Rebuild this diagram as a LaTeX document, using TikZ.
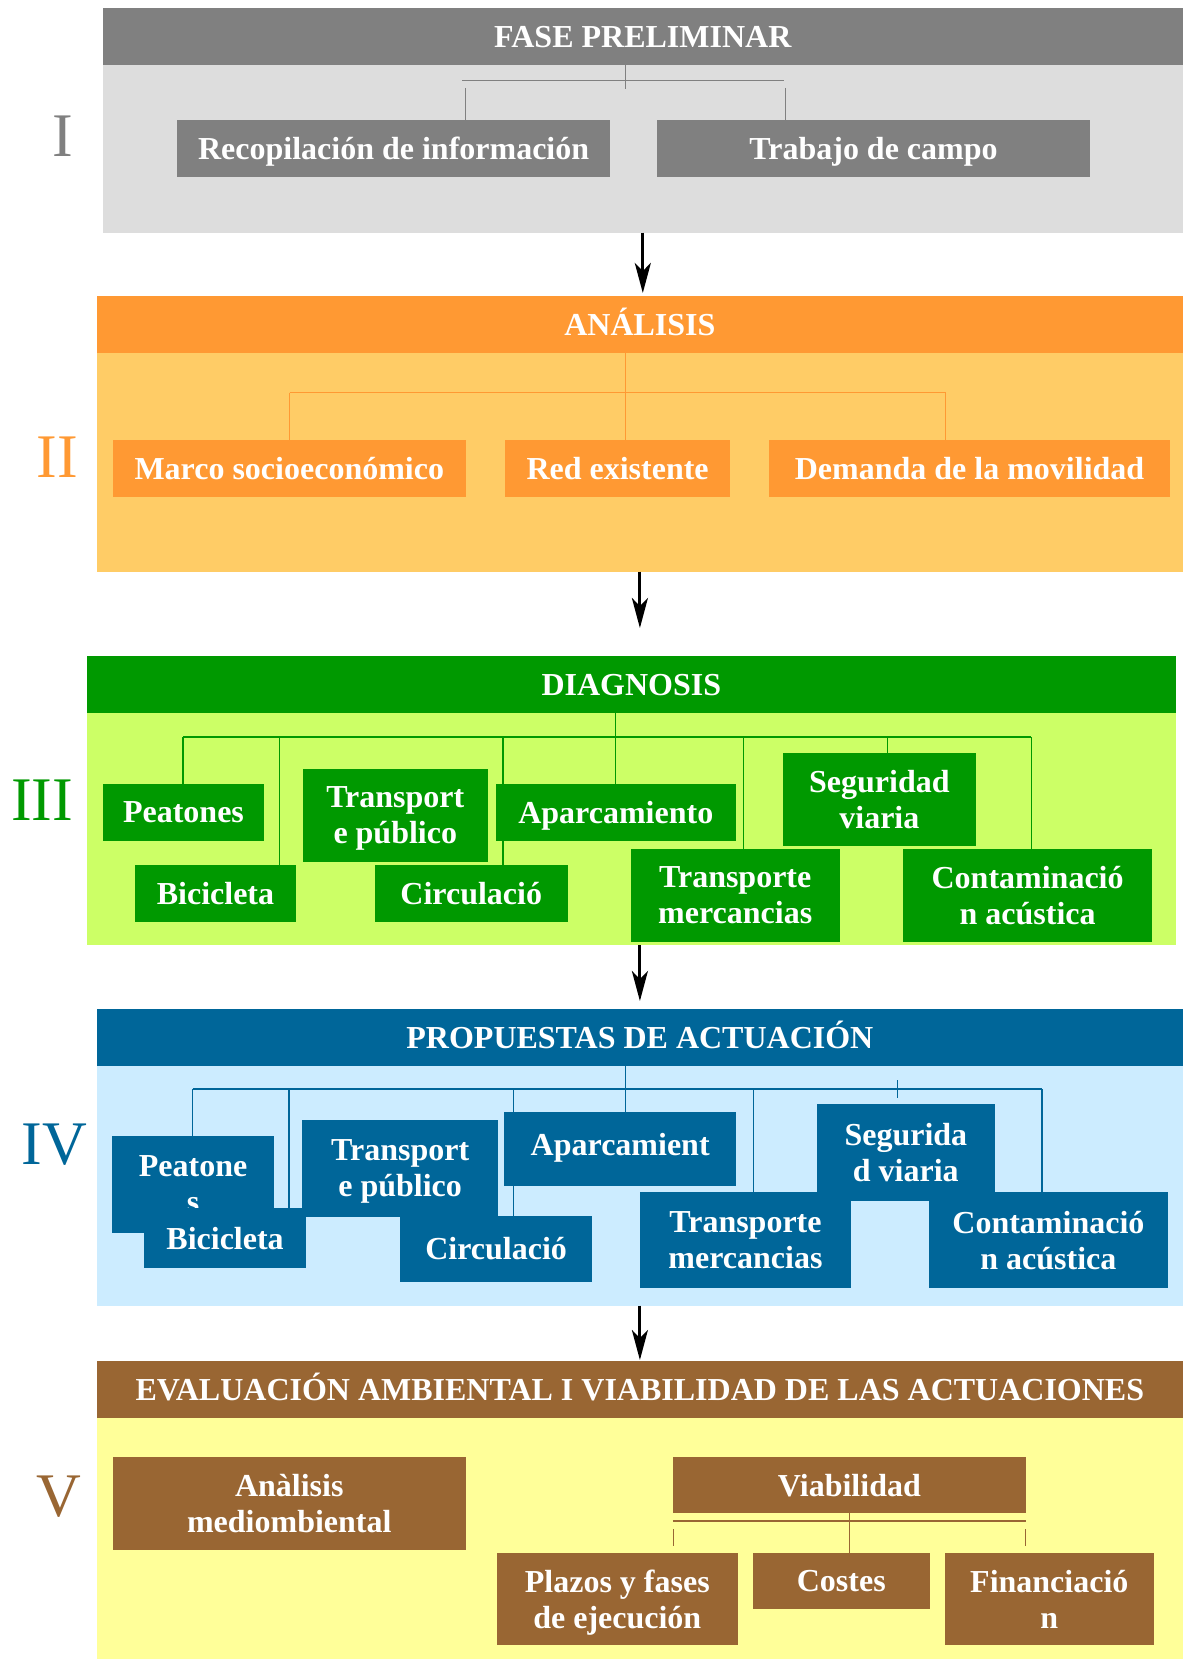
\documentclass[tikz,border=0pt]{standalone}
\usepackage{fontspec}
\setmainfont{Liberation Serif}
\usetikzlibrary{arrows.meta}
\definecolor{grayD}{HTML}{808080}
\definecolor{grayL}{HTML}{DDDDDD}
\definecolor{orD}{HTML}{FF9933}
\definecolor{orL}{HTML}{FFCC66}
\definecolor{grD}{HTML}{009900}
\definecolor{grL}{HTML}{CCFF66}
\definecolor{blD}{HTML}{006699}
\definecolor{blL}{HTML}{CCECFF}
\definecolor{brD}{HTML}{996633}
\definecolor{brL}{HTML}{FFFF99}
\begin{document}
\begin{tikzpicture}[x=1pt,y=-1pt,
  pan/.style={fill=#1, inner sep=0pt, outer sep=0pt},
  hdr/.style={fill=#1, text=white, inner sep=0pt, outer sep=0pt, text height=22pt, text depth=0pt, font=\bfseries\fontsize{32}{36}\selectfont},
  box/.style={fill=#1, text=white, inner sep=0pt, outer sep=0pt, align=center, text depth=0pt, font=\bfseries\fontsize{32}{36}\selectfont},
  num/.style={text=#1, inner sep=0pt, font=\fontsize{62}{70}\selectfont},
  lnk/.style={draw=#1, line width=1.3pt},
  arr/.style={draw=black, line width=3pt, -{Stealth[length=30pt,width=16pt,inset=8pt]}}]
\useasboundingbox (0,0) rectangle (1183,1659);

\node[pan=grayL, minimum width=1080.4pt, minimum height=224.7pt] (pan1) at (642.8,120.35) {};
\node[hdr=grayD, minimum width=1080.4pt, minimum height=57pt] (hdr1) at (642.8,36.5) {FASE PRELIMINAR};
\node[box=grayD, minimum width=432.8pt, minimum height=56.7pt] (recop) at (393.6,148.35) {Recopilación de información};
\node[box=grayD, minimum width=433pt, minimum height=56.7pt] (trab) at (873.5,148.35) {Trabajo de campo};
\node[num=grayD] (n1) at (63,136.7) {I};
\coordinate (s1) at (625.2,89);
\coordinate (b1l) at (462,80.3);
\coordinate (b1r) at (783.7,80.3);
\coordinate (d1l) at (465.4,88);
\coordinate (d1r) at (785.5,88);
\draw[lnk=grayD] (s1 |- hdr1.south) -- (s1);
\draw[lnk=grayD] (b1l) -- (b1r);
\draw[lnk=grayD] (d1l) -- (d1l |- recop.north);
\draw[lnk=grayD] (d1r) -- (d1r |- trab.north);

\node[pan=orL, minimum width=1086.2pt, minimum height=275.7pt] (pan2) at (639.9,433.85) {};
\node[hdr=orD, minimum width=1086.2pt, minimum height=56.7pt] (hdr2) at (639.9,324.35) {ANÁLISIS};
\node[box=orD, minimum width=352.8pt, minimum height=56.7pt] (marco) at (289.3,468.35) {Marco socioeconómico};
\node[box=orD, minimum width=224.8pt, minimum height=56.7pt] (red) at (617.6,468.35) {Red existente};
\node[box=orD, minimum width=401.3pt, minimum height=56.7pt] (dem) at (969.55,468.35) {Demanda de la movilidad};
\node[num=orD] (n2) at (57.4,456.7) {II};
\coordinate (v2) at (625.2,392.7);
\coordinate (b2l) at (289.7,392.7);
\coordinate (b2r) at (945.5,392.7);
\draw[lnk=orD] (v2 |- hdr2.south) -- (v2 |- red.north);
\draw[lnk=orD] (b2l) -- (b2r);
\draw[lnk=orD] (b2l) -- (b2l |- marco.north);
\draw[lnk=orD] (b2r) -- (b2r |- dem.north);

\node[pan=grL, minimum width=1088.9pt, minimum height=289pt] (pan3) at (631.35,800.5) {};
\node[hdr=grD, minimum width=1088.9pt, minimum height=56.7pt] (hdr3) at (631.35,684.35) {DIAGNOSIS};
\node[box=grD, minimum width=161pt, minimum height=57pt] (peat3) at (183.5,812.5) {Peatones};
\node[box=grD, minimum width=160.7pt, minimum height=56.7pt] (bici3) at (215.45,893.35) {Bicicleta};
\node[box=grD, minimum width=184.6pt, minimum height=92.7pt] (trans3) at (395.3,815.35) {Transport\\e público};
\node[box=grD, minimum width=192.5pt, minimum height=56.7pt] (circ3) at (471.25,893.35) {Circulació};
\node[box=grD, minimum width=240.4pt, minimum height=57pt] (apar3) at (615.8,812.5) {Aparcamiento};
\node[box=grD, minimum width=208.8pt, minimum height=92.7pt] (merc3) at (735.2,895.35) {Transporte\\mercancias};
\node[box=grD, minimum width=192.9pt, minimum height=92.4pt] (segu3) at (879.35,799.5) {Seguridad\\viaria};
\node[box=grD, minimum width=248.8pt, minimum height=92.7pt] (cont3) at (1027.6,895.35) {Contaminació\\n acústica};
\node[num=grD] (n3) at (42,800) {III};
\coordinate (b3l) at (183,737);
\coordinate (b3r) at (1031.4,737);
\coordinate (d3b) at (279.4,737);
\coordinate (d3c) at (502.9,737);
\coordinate (d3m) at (743.2,737);
\coordinate (d3s) at (887.3,737);
\draw[lnk=grD] (apar3.north |- hdr3.south) -- (apar3.north);
\draw[lnk=grD] (b3l) -- (b3r);
\draw[lnk=grD] (b3l) -- (b3l |- peat3.north);
\draw[lnk=grD] (d3b) -- (d3b |- bici3.north);
\draw[lnk=grD] (d3c) -- (d3c |- apar3.north);
\draw[lnk=grD] (d3c |- apar3.south) -- (d3c |- circ3.north);
\draw[lnk=grD] (d3m) -- (d3m |- merc3.north);
\draw[lnk=grD] (d3s) -- (d3s |- segu3.north);
\draw[lnk=grD] (b3r) -- (b3r |- cont3.north);

\node[pan=blL, minimum width=1086.2pt, minimum height=296.7pt] (pan4) at (639.9,1157.35) {};
\node[hdr=blD, minimum width=1086.2pt, minimum height=57pt] (hdr4) at (639.9,1037.5) {PROPUESTAS DE ACTUACIÓN};
\node[box=blD, minimum width=161.9pt, minimum height=96.7pt] (peat4) at (193.05,1184.35) {Peatone\\s};
\node[box=blD, minimum width=162.3pt, minimum height=59.4pt] (bici4) at (225.05,1238) {Bicicleta};
\node[box=blD, minimum width=196.3pt, minimum height=96.4pt] (trans4) at (400.15,1168.5) {Transport\\e público};
\node[box=blD, minimum width=191.7pt, minimum height=65.7pt] (circ4) at (496.15,1248.85) {Circulació};
\node[box=blD, minimum width=231.6pt, minimum height=73.4pt, text depth=10pt] (apar4) at (620.2,1149) {Aparcamient};
\node[box=blD, minimum width=177.7pt, minimum height=97pt] (segu4) at (905.85,1152.5) {Segurida\\d viaria};
\node[box=blD, minimum width=210.3pt, minimum height=96.6pt] (merc4) at (745.45,1240) {Transporte\\mercancias};
\node[box=blD, minimum width=239.8pt, minimum height=96.6pt] (cont4) at (1048.4,1240) {Contaminació\\n acústica};
\node[num=blD] (n4) at (54.5,1145) {IV};
\coordinate (v4) at (625.2,1089);
\coordinate (b4l) at (192.5,1089);
\coordinate (b4r) at (1042,1089);
\coordinate (d4b) at (289,1089);
\coordinate (d4c) at (513.2,1089);
\coordinate (d4m) at (753.4,1089);
\coordinate (d4s) at (897.5,1080);
\draw[lnk=blD] (v4 |- hdr4.south) -- (v4 |- apar4.north);
\draw[lnk=blD] (b4l) -- (b4r);
\draw[lnk=blD] (b4l) -- (b4l |- peat4.north);
\draw[lnk=blD] (d4b) -- (d4b |- bici4.north);
\draw[lnk=blD] (d4c) -- (d4c |- apar4.north);
\draw[lnk=blD] (d4c |- apar4.south) -- (d4c |- circ4.north);
\draw[lnk=blD] (d4m) -- (d4m |- merc4.north);
\draw[lnk=blD, shorten >=6.3pt] (d4s) -- (d4s |- segu4.north);
\draw[lnk=blD] (b4r) -- (b4r |- cont4.north);

\node[pan=brL, minimum width=1086.2pt, minimum height=298pt] (pan5) at (639.9,1510) {};
\node[hdr=brD, minimum width=1086.2pt, minimum height=56.7pt] (hdr5) at (639.9,1389.35) {EVALUACIÓN AMBIENTAL I VIABILIDAD DE LAS ACTUACIONES};
\node[box=brD, minimum width=352.8pt, minimum height=92.7pt] (anal) at (289.3,1503.35) {Anàlisis\\mediombiental};
\node[box=brD, minimum width=353.2pt, minimum height=56.3pt] (viab) at (849.4,1485.15) {Viabilidad};
\node[box=brD, minimum width=240.4pt, minimum height=92.3pt] (plaz) at (617.3,1599.15) {Plazos y fases\\de ejecución};
\node[box=brD, minimum width=176.6pt, minimum height=56.3pt] (cost) at (841.3,1581.15) {Costes};
\node[box=brD, minimum width=208.4pt, minimum height=92.3pt] (fin) at (1049.3,1599.15) {Financiació\\n};
\node[num=brD] (n5) at (59.3,1496.7) {V};
\coordinate (b5l) at (672.8,1521);
\coordinate (b5r) at (1026,1521);
\coordinate (k5l) at (673.6,1529);
\coordinate (k5r) at (1025.7,1529);
\draw[lnk=brD] (b5l) -- (b5r);
\draw[lnk=brD] (viab.south) -- (viab.south |- cost.north);
\draw[lnk=brD, shorten >=7.3pt] (k5l) -- (k5l |- plaz.north);
\draw[lnk=brD, shorten >=7.3pt] (k5r) -- (k5r |- fin.north);

\draw[arr, shorten >=3pt] (pan1.south) -- (pan1.south |- hdr2.north);
\draw[arr, shorten >=28pt] (pan2.south) -- (pan2.south |- hdr3.north);
\draw[arr, shorten >=8pt] (hdr4.north |- pan3.south) -- (hdr4.north);
\draw[arr, shorten >=1pt] (pan4.south) -- (pan4.south |- hdr5.north);
\end{tikzpicture}
\end{document}
